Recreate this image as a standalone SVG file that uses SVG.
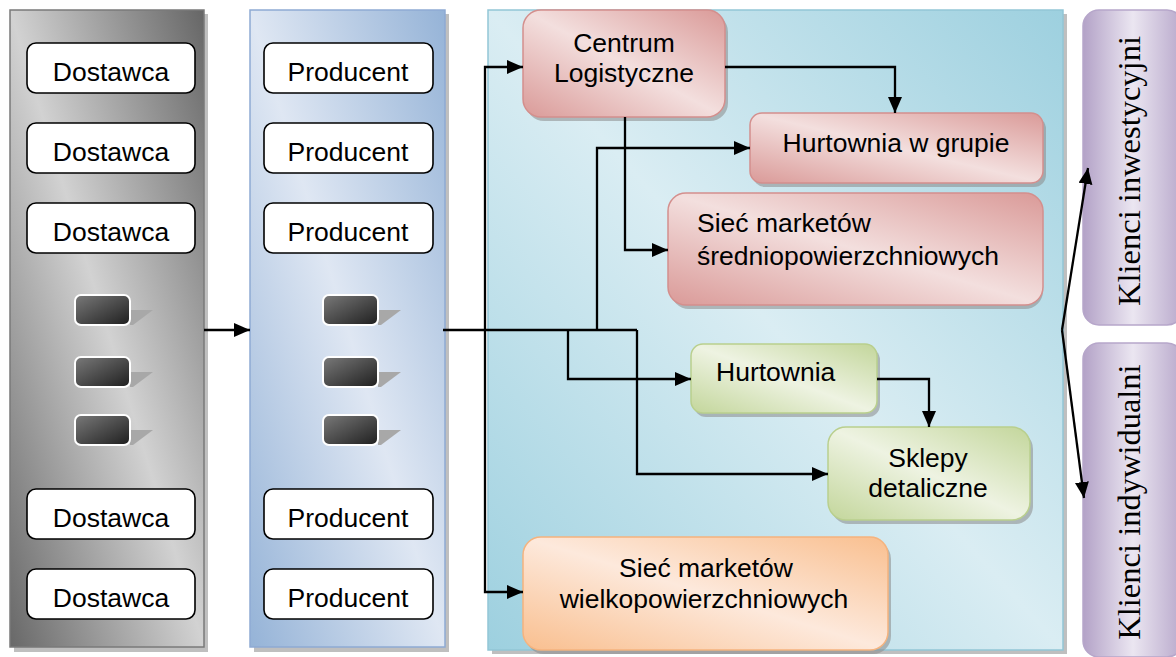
<svg xmlns="http://www.w3.org/2000/svg" width="1176" height="657" viewBox="0 0 1176 657">
<defs>
<linearGradient id="gGray" x1="0" y1="1" x2="1" y2="0"><stop offset="0" stop-color="#686868"/><stop offset="0.5" stop-color="#d2d2d2"/><stop offset="1" stop-color="#666666"/></linearGradient>
<linearGradient id="gBlue" x1="0" y1="1" x2="1" y2="0"><stop offset="0" stop-color="#95b3d7"/><stop offset="0.5" stop-color="#dfe7f3"/><stop offset="1" stop-color="#95b3d7"/></linearGradient>
<linearGradient id="gTeal" x1="0" y1="1" x2="1" y2="0"><stop offset="0" stop-color="#9dd0df"/><stop offset="0.5" stop-color="#daedf3"/><stop offset="1" stop-color="#9dd0df"/></linearGradient>
<linearGradient id="gRed" x1="0" y1="1" x2="1" y2="0"><stop offset="0" stop-color="#da9a98"/><stop offset="0.5" stop-color="#f3dfde"/><stop offset="1" stop-color="#da9a98"/></linearGradient>
<linearGradient id="gGreen" x1="0" y1="1" x2="1" y2="0"><stop offset="0" stop-color="#c3d69b"/><stop offset="0.5" stop-color="#eef3e2"/><stop offset="1" stop-color="#c3d69b"/></linearGradient>
<linearGradient id="gOrange" x1="0" y1="1" x2="1" y2="0"><stop offset="0" stop-color="#f9bf8f"/><stop offset="0.5" stop-color="#fde9dc"/><stop offset="1" stop-color="#f9bf8f"/></linearGradient>
<linearGradient id="gPurple" x1="0" y1="0" x2="1" y2="0"><stop offset="0" stop-color="#b3a2c7"/><stop offset="0.5" stop-color="#ebe6f1"/><stop offset="1" stop-color="#b8a8cb"/></linearGradient>
<linearGradient id="gDark" x1="0" y1="0" x2="1" y2="1"><stop offset="0" stop-color="#7a7a7a"/><stop offset="1" stop-color="#1e1e1e"/></linearGradient>
<marker id="ah" markerUnits="userSpaceOnUse" markerWidth="18" markerHeight="16" refX="16" refY="7" orient="auto"><path d="M0,0 L16,7 L0,14 z" fill="#000"/></marker>
</defs>
<style>
.lbl{font-family:"Liberation Sans",Arial,sans-serif;font-size:26.5px;fill:#000}
.mid{text-anchor:middle}
.vt{font-family:"Liberation Serif","Times New Roman",serif;font-size:32.5px;fill:#000;text-anchor:middle}
.wbox{fill:#fff;stroke:#000;stroke-width:1.6}
.sh{fill:#8a8a8a;opacity:0.55}
.pan{stroke-width:1.5}
.dk{fill:url(#gDark);stroke:#fff;stroke-width:2}
.dsh{fill:#a8a8a8}
.con{fill:none;stroke:#000;stroke-width:2.3}
.arr{marker-end:url(#ah)}
</style>

<g id="panel-dostawcy">
<rect class="sh" x="14" y="14" width="194" height="638"/>
<rect class="pan" x="10" y="10" width="194" height="637" fill="url(#gGray)" stroke="#7a7a7a"/>
<rect class="wbox" x="27" y="43" width="168" height="50" rx="9"/>
<text class="lbl mid" x="111" y="81">Dostawca</text>
<rect class="wbox" x="27" y="123" width="168" height="50" rx="9"/>
<text class="lbl mid" x="111" y="161">Dostawca</text>
<rect class="wbox" x="27" y="203" width="168" height="50" rx="9"/>
<text class="lbl mid" x="111" y="241">Dostawca</text>
<polygon class="dsh" points="130,310 153,310 133,325 130,325"/>
<rect class="dk" x="75" y="295" width="55" height="30" rx="6"/>
<polygon class="dsh" points="130,372 153,372 133,387 130,387"/>
<rect class="dk" x="75" y="357" width="55" height="30" rx="6"/>
<polygon class="dsh" points="130,430 153,430 133,445 130,445"/>
<rect class="dk" x="75" y="415" width="55" height="30" rx="6"/>
<rect class="wbox" x="27" y="489" width="168" height="50" rx="9"/>
<text class="lbl mid" x="111" y="527">Dostawca</text>
<rect class="wbox" x="27" y="569" width="168" height="50" rx="9"/>
<text class="lbl mid" x="111" y="607">Dostawca</text>
</g>

<g id="panel-producenci">
<rect class="sh" x="254" y="14" width="195" height="638"/>
<rect class="pan" x="250" y="10" width="195" height="637" fill="url(#gBlue)" stroke="#8eaad3"/>
<rect class="wbox" x="264" y="43" width="169" height="50" rx="9"/>
<text class="lbl mid" x="348" y="81">Producent</text>
<rect class="wbox" x="264" y="123" width="169" height="50" rx="9"/>
<text class="lbl mid" x="348" y="161">Producent</text>
<rect class="wbox" x="264" y="203" width="169" height="50" rx="9"/>
<text class="lbl mid" x="348" y="241">Producent</text>
<polygon class="dsh" points="378,310 401,310 381,325 378,325"/>
<rect class="dk" x="323" y="295" width="55" height="30" rx="6"/>
<polygon class="dsh" points="378,372 401,372 381,387 378,387"/>
<rect class="dk" x="323" y="357" width="55" height="30" rx="6"/>
<polygon class="dsh" points="378,430 401,430 381,445 378,445"/>
<rect class="dk" x="323" y="415" width="55" height="30" rx="6"/>
<rect class="wbox" x="264" y="489" width="169" height="50" rx="9"/>
<text class="lbl mid" x="348" y="527">Producent</text>
<rect class="wbox" x="264" y="569" width="169" height="50" rx="9"/>
<text class="lbl mid" x="348" y="607">Producent</text>
</g>

<g id="panel-dystrybucja">
<rect class="sh" x="492" y="14" width="575" height="640"/>
<rect class="pan" x="488" y="10" width="575" height="640" fill="url(#gTeal)" stroke="#92c6d6"/>
</g>

<g id="centrum">
<rect class="sh" x="526" y="14" width="202" height="107" rx="18"/>
<rect x="523" y="10" width="202" height="107" rx="18" fill="url(#gRed)" stroke="#d48f8d" stroke-width="1.5"/>
<text class="lbl mid" x="624" y="52">Centrum</text>
<text class="lbl mid" x="624" y="82">Logistyczne</text>
</g>

<g id="hurtownia-grupa">
<rect class="sh" x="753" y="117" width="293" height="70" rx="12"/>
<rect x="750" y="113" width="293" height="70" rx="12" fill="url(#gRed)" stroke="#d48f8d" stroke-width="1.5"/>
<text class="lbl mid" x="896" y="152">Hurtownia w grupie</text>
</g>

<g id="siec-srednio">
<rect class="sh" x="671" y="197" width="372" height="112" rx="18"/>
<rect x="668" y="193" width="375" height="112" rx="18" fill="url(#gRed)" stroke="#d48f8d" stroke-width="1.5"/>
<text class="lbl" x="697" y="232">Sieć marketów</text>
<text class="lbl" x="697" y="265">średniopowierzchniowych</text>
</g>

<g id="hurtownia">
<rect class="sh" x="694" y="348" width="186" height="69" rx="12"/>
<rect x="691" y="344" width="186" height="69" rx="12" fill="url(#gGreen)" stroke="#b9cf8d" stroke-width="1.5"/>
<text class="lbl" x="716" y="381">Hurtownia</text>
</g>

<g id="sklepy">
<rect class="sh" x="831" y="431" width="202" height="93" rx="18"/>
<rect x="828" y="427" width="202" height="93" rx="18" fill="url(#gGreen)" stroke="#b9cf8d" stroke-width="1.5"/>
<text class="lbl mid" x="928" y="467">Sklepy</text>
<text class="lbl mid" x="928" y="497">detaliczne</text>
</g>

<g id="siec-wielko">
<rect class="sh" x="526" y="541" width="365" height="113" rx="18"/>
<rect x="523" y="537" width="365" height="113" rx="18" fill="url(#gOrange)" stroke="#f5b37e" stroke-width="1.5"/>
<text class="lbl mid" x="706" y="577">Sieć marketów</text>
<text class="lbl mid" x="704" y="608">wielkopowierzchniowych</text>
</g>

<g id="klienci-inwestycyjni">
<rect x="1083" y="10" width="100" height="315" rx="16" fill="url(#gPurple)" stroke="#b6a6ca" stroke-width="1.5"/>
<text class="vt" transform="translate(1140,171) rotate(-90)">Klienci inwestycyjni</text>
</g>

<g id="klienci-indywidualni">
<rect x="1083" y="343" width="100" height="314" rx="16" fill="url(#gPurple)" stroke="#b6a6ca" stroke-width="1.5"/>
<text class="vt" transform="translate(1140,502) rotate(-90)">Klienci indywidualni</text>
</g>

<g id="connectors">
<path class="con arr" d="M204,330 H250"/>
<path class="con" d="M443,330 H637"/>
<path class="con arr" d="M485,330 V67 H523"/>
<path class="con arr" d="M485,330 V592 H523"/>
<path class="con arr" d="M597,330 V148 H750"/>
<path class="con arr" d="M568,330 V379 H691"/>
<path class="con arr" d="M637,330 V474 H828"/>
<path class="con arr" d="M725,67 H895 V113"/>
<path class="con arr" d="M625,117 V250 H668"/>
<path class="con arr" d="M877,379 H929 V427"/>
<path class="con arr" d="M1062,330 L1088,168"/>
<path class="con arr" d="M1062,330 L1084,498"/>
</g>
</svg>
